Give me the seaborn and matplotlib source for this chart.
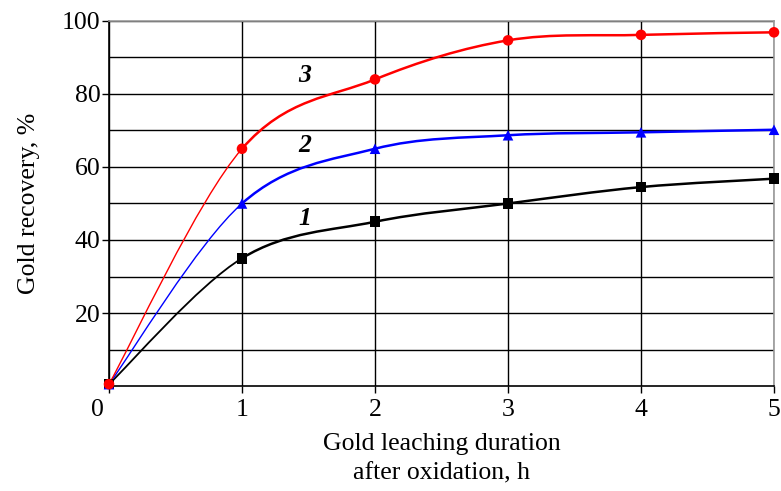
import numpy as np
import pandas as pd
import matplotlib
matplotlib.use("Agg")
import matplotlib.pyplot as plt
import matplotlib.transforms as mtransforms
from matplotlib.path import Path
from matplotlib.patches import PathPatch
import seaborn as sns

# values
hours = [0, 1, 2, 3, 4, 5]
curve_1 = [0.5, 35.0, 45.0, 50.0, 54.5, 56.8]
curve_2 = [0.5, 50.0, 65.0, 68.7, 69.5, 70.2]
curve_3 = [0.5, 65.0, 84.0, 94.7, 96.2, 96.9]
names = ["1", "2", "3"]
colors = {"1": "black", "2": "blue", "3": "red"}
markers = {"1": "s", "2": "^", "3": "o"}
x_ticks = [0, 1, 2, 3, 4, 5]
y_ticks = [20, 40, 60, 80, 100]
y_grid = [10, 30, 50, 70, 90]

df = pd.DataFrame({
    "hours": hours * 3,
    "recovery": curve_1 + curve_2 + curve_3,
    "curve": [n for n in names for _ in hours],
})

sns.set_style("white")
plt.rcParams["font.family"] = ["Liberation Serif", "DejaVu Serif"]
plt.rcParams["font.size"] = 18.5
for key in ["text.color", "axes.labelcolor", "xtick.color", "ytick.color"]:
    plt.rcParams[key] = "black"


def bezier_segments(x, y):
    # Excel-like smoothed line: one cubic Bezier per pair of points
    x = np.asarray(x, float)
    y = np.asarray(y, float)
    n = len(x)
    segs = []
    for i in range(n - 1):
        i0, i2, i3 = max(i - 1, 0), i + 1, min(i + 2, n - 1)
        c1 = (x[i] + (x[i2] - x[i0]) / 6, y[i] + (y[i2] - y[i0]) / 6)
        c2 = (x[i2] - (x[i3] - x[i]) / 6, y[i2] - (y[i3] - y[i]) / 6)
        segs.append([(x[i], y[i]), c1, c2, (x[i2], y[i2])])
    return segs


fig = plt.figure(figsize=(7.81, 4.91), dpi=100)
ax = fig.add_axes([109 / 781, 105 / 491, 665 / 781, 365 / 491])

for name in names:
    sub = df[df["curve"] == name]
    segs = bezier_segments(sub["hours"], sub["recovery"])
    codes = [Path.MOVETO, Path.CURVE4, Path.CURVE4, Path.CURVE4]
    # first stretch is drawn thin, the rest thicker
    first = PathPatch(Path(segs[0], codes), facecolor="none",
                      edgecolor=colors[name], lw=1.0 if name != "1" else 1.3, zorder=3)
    verts = [segs[1][0]]
    allcodes = [Path.MOVETO]
    for s in segs[1:]:
        verts += s[1:]
        allcodes += [Path.CURVE4] * 3
    rest = PathPatch(Path(verts, allcodes), facecolor="none",
                     edgecolor=colors[name], lw=1.8, zorder=3)
    ax.add_patch(first)
    ax.add_patch(rest)

sns.scatterplot(data=df, x="hours", y="recovery", hue="curve", style="curve",
                palette=colors, markers=markers, s=58, edgecolor="none",
                legend=False, ax=ax, zorder=4, clip_on=False)

# curve numbers
for name, yy in zip(names, [46, 66, 85]):
    ax.text(1.47, yy, name, fontsize=18.5, fontweight="bold", fontstyle="italic",
            ha="center", va="center")

ax.set_xlim(0, 5)
ax.set_ylim(0, 100)
ax.set_xticks(x_ticks)
ax.set_yticks(y_ticks)
ax.set_yticks(y_grid, minor=True)
ax.set_axisbelow(True)
ax.grid(True, which="both", color="black", lw=1.0)
ax.tick_params(axis="both", which="major", direction="out", length=5, width=1,
               color="black", bottom=True, left=True, labelsize=18.5)
ax.tick_params(axis="x", pad=4)
ax.tick_params(axis="y", pad=1)
ax.tick_params(which="minor", length=0)

for side in ["left", "bottom"]:
    ax.spines[side].set_color("black")
    ax.spines[side].set_linewidth(1.2)
for side in ["top", "right"]:
    ax.spines[side].set_color("#9a9a9a")
    ax.spines[side].set_linewidth(1.2)

# the "0" label sits a little left of the axis in the original
shift = mtransforms.ScaledTranslation(-0.12, 0, fig.dpi_scale_trans)
lbl0 = ax.get_xticklabels()[0]
lbl0.set_transform(lbl0.get_transform() + shift)

ax.set_xlabel("Gold leaching duration\nafter oxidation, h", fontsize=18.5,
              labelpad=9, linespacing=1.45)
ax.set_ylabel("Gold recovery, %", fontsize=18.5, labelpad=16)

fig.savefig("out.png", dpi=100)
